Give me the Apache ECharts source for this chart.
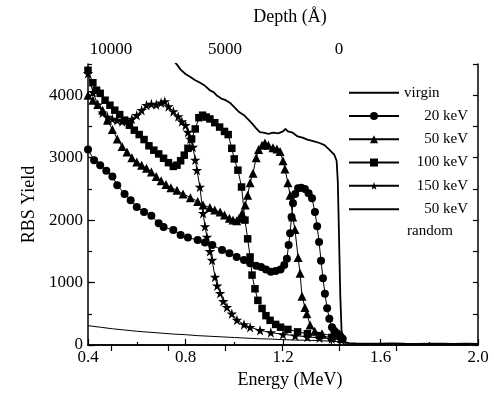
<!DOCTYPE html>
<html>
<head>
<meta charset="utf-8">
<script src="https://cdn.jsdelivr.net/npm/echarts@6/dist/echarts.min.js"></script>
<style>html,body{margin:0;padding:0;background:#fff}#c{width:494px;height:399px}</style>
</head>
<body>
<div id="c"></div>
<script>
// ---- data ----
var xTicks = [0.4, 0.8, 1.2, 1.6, 2.0];
var yTicks = [0, 1000, 2000, 3000, 4000];
var depthTicks = [10000, 7500, 5000, 2500, 0, -2500];
var depthLabels = [10000, 5000, 0];

var virginE = [0.70,0.74,0.765,0.78,0.80,0.82,0.84,0.86,0.88,0.90,0.915,0.93,0.95,0.965,0.985,1.00,1.02,1.04,1.05,1.07,1.09,1.105,1.12,1.14,1.16,1.18,1.20,1.21,1.22,1.24,1.26,1.28,1.30,1.32,1.35,1.37,1.39,1.41,1.42,1.425,1.43,1.435,1.44,1.445,1.45,1.47,1.50,1.55,1.60,1.65,1.70,1.75,1.80,1.85,1.90,1.95,2.00];
var virginY = [4750,4600,4490,4410,4340,4290,4240,4200,4150,4080,4050,3990,3940,3920,3870,3810,3730,3680,3640,3560,3470,3410,3400,3380,3400,3390,3420,3460,3420,3400,3340,3320,3290,3270,3235,3200,3130,3050,2950,2600,1700,800,250,90,50,30,25,22,20,25,20,18,22,20,18,20,18];

var kev20E = [0.40,0.425,0.45,0.475,0.50,0.52,0.55,0.575,0.60,0.63,0.66,0.69,0.71,0.75,0.78,0.81,0.85,0.88,0.91,0.95,0.98,1.01,1.04,1.065,1.09,1.11,1.13,1.15,1.17,1.19,1.205,1.216,1.223,1.229,1.235,1.241,1.25,1.262,1.275,1.29,1.305,1.319,1.331,1.34,1.348,1.356,1.364,1.372,1.381,1.39,1.401,1.41,1.422,1.435,1.445];
var kev20Y = [3130,2960,2880,2790,2700,2560,2420,2320,2210,2130,2070,1950,1890,1840,1760,1720,1680,1640,1600,1520,1470,1410,1360,1310,1270,1250,1210,1175,1185,1210,1280,1380,1600,1790,2050,2270,2420,2510,2520,2500,2430,2350,2130,1900,1650,1350,1070,820,590,420,285,230,190,140,100];

var kev50E = [0.40,0.42,0.44,0.46,0.48,0.50,0.52,0.54,0.56,0.58,0.60,0.62,0.64,0.66,0.68,0.70,0.72,0.74,0.765,0.79,0.82,0.85,0.872,0.90,0.92,0.942,0.96,0.98,0.995,1.01,1.02,1.032,1.045,1.055,1.065,1.077,1.09,1.10,1.114,1.126,1.14,1.159,1.175,1.188,1.20,1.208,1.22,1.229,1.24,1.249,1.262,1.27,1.278,1.29,1.298,1.311,1.33,1.36,1.40,1.44];
var kev50Y = [4000,3920,3850,3760,3600,3450,3300,3180,3090,3000,2930,2880,2830,2770,2700,2630,2570,2520,2480,2420,2360,2300,2240,2200,2160,2130,2080,2030,2000,1990,2030,2110,2240,2400,2600,2750,3000,3130,3200,3235,3200,3160,3140,3100,2950,2820,2600,2400,2050,1850,1400,1150,780,600,500,320,220,180,150,110];

var kev100E = [0.40,0.42,0.435,0.45,0.47,0.49,0.51,0.53,0.55,0.57,0.59,0.61,0.63,0.65,0.67,0.69,0.71,0.73,0.75,0.765,0.78,0.795,0.81,0.825,0.84,0.855,0.87,0.885,0.90,0.92,0.94,0.96,0.975,0.99,1.00,1.015,1.03,1.044,1.055,1.065,1.073,1.085,1.097,1.114,1.13,1.147,1.17,1.19,1.22,1.26,1.30,1.35,1.40,1.44];
var kev100Y = [4400,4200,4080,4030,3920,3840,3760,3690,3600,3520,3440,3370,3290,3190,3120,3060,2990,2920,2860,2880,2950,3040,3150,3300,3460,3640,3680,3650,3620,3560,3490,3420,3370,3150,2980,2800,2530,2000,1700,1410,1120,900,715,585,470,395,330,285,250,210,180,150,120,90];

var kev150E = [0.40,0.42,0.44,0.46,0.48,0.50,0.52,0.54,0.56,0.58,0.60,0.62,0.64,0.66,0.68,0.70,0.715,0.73,0.75,0.77,0.785,0.80,0.81,0.82,0.83,0.84,0.847,0.859,0.872,0.88,0.888,0.90,0.909,0.921,0.93,0.942,0.955,0.97,0.99,1.011,1.04,1.065,1.106,1.15,1.20,1.25,1.30,1.35,1.40,1.44];
var kev150Y = [4350,4050,3850,3720,3650,3620,3600,3580,3590,3620,3680,3760,3840,3860,3850,3880,3900,3820,3740,3660,3580,3520,3410,3300,3170,2965,2800,2530,2110,1900,1730,1500,1360,1090,950,830,700,605,500,400,330,285,235,200,170,150,130,115,100,80];

var randomE = [0.40,0.45,0.50,0.55,0.60,0.65,0.70,0.75,0.80,0.85,0.90,0.95,1.00,1.05,1.10,1.15,1.20,1.25,1.30,1.35,1.40,1.44,1.46,1.50,2.00];
var randomY = [310,285,260,240,220,205,190,175,165,150,140,130,120,110,100,95,85,80,75,70,60,50,20,15,15];

// ---- build ----
var E0 = 1.43;            // energy at zero depth
var kE = 57 / 2500 / 243.75; // MeV per Angstrom (axis calibration)
function depthToE(d){ return E0 - d * kE; }
function zip(a,b){ return a.map(function(v,i){ return [v,b[i]]; }); }

var FONT = 'Liberation Serif';
var star = 'path://M50,0 L61,35 L98,35 L68,57 L79,91 L50,70 L21,91 L32,57 L2,35 L39,35 Z';
var blk = '#000';

function mk(name, e, y, symbol, size, lw){
  var plain = symbol === 'none';
  return {
    name: name, type: 'line', data: zip(e, y),
    symbol: plain ? 'circle' : symbol, symbolSize: size, showSymbol: !plain,
    itemStyle: {color: blk}, lineStyle: {color: blk, width: lw},
    clip: true, z: 3
  };
}

var chart = echarts.init(document.getElementById('c'), null, {renderer: 'canvas'});
var lbl = {fontFamily: FONT, fontSize: 17, color: blk};
var hidden = {color: 'rgba(0,0,0,0)', borderWidth: 0, opacity: 0};
chart.setOption({
  animation: false,
  grid: {left: 88, right: 16, top: 64, bottom: 54, containLabel: false},
  xAxis: [{
    type: 'value', position: 'bottom', min: 0.4, max: 2.0, interval: 0.4,
    axisLine: {show: true, lineStyle: {color: blk, width: 1.5}},
    axisTick: {show: true, inside: true, length: 6, lineStyle: {color: blk, width: 1.2}},
    minorTick: {show: true, splitNumber: 2, length: 3, lineStyle: {color: blk, width: 1.2}},
    splitLine: {show: false},
    axisLabel: Object.assign({margin: 4, formatter: function(v){ return v.toFixed(1); }}, lbl),
    name: 'Energy (MeV)', nameLocation: 'middle', nameGap: 25,
    nameTextStyle: {fontFamily: FONT, fontSize: 18, color: blk, padding: [0,0,0,14]}
  }, {
    type: 'value', position: 'top', min: 0.4, max: 2.0,
    axisLine: {show: true, lineStyle: {color: blk, width: 1.5}},
    axisTick: {show: true, inside: true, length: 6, customValues: depthTicks.map(depthToE), lineStyle: {color: blk, width: 1.2}},
    splitLine: {show: false},
    axisLabel: Object.assign({margin: 6, customValues: depthLabels.map(depthToE),
      formatter: function(v){ return String(Math.round((E0 - v) / kE / 100) * 100); }}, lbl),
    name: 'Depth (\u00C5)', nameLocation: 'middle', nameGap: 38,
    nameTextStyle: {fontFamily: FONT, fontSize: 18, color: blk, padding: [0,0,0,14]}
  }],
  yAxis: [{
    type: 'value', position: 'left', min: 0, max: 4500, interval: 1000,
    axisLine: {show: true, lineStyle: {color: blk, width: 1.5}},
    axisTick: {show: true, inside: true, length: 7, customValues: yTicks, lineStyle: {color: blk, width: 1.2}},
    splitLine: {show: false},
    axisLabel: Object.assign({margin: 5, customValues: yTicks, formatter: function(v){ return String(v); }}, lbl),
    name: 'RBS Yield', nameLocation: 'middle', nameGap: 46,
    nameTextStyle: {fontFamily: FONT, fontSize: 18, color: blk}
  }, {
    type: 'value', position: 'left', min: 0, max: 4500, interval: 500,
    axisLine: {show: false}, axisLabel: {show: false}, splitLine: {show: false},
    axisTick: {show: true, inside: true, length: 4, lineStyle: {color: blk, width: 1.2}}
  }, {
    type: 'value', position: 'right', min: 0, max: 4500, interval: 500,
    axisLine: {show: true, lineStyle: {color: blk, width: 1.5}},
    axisLabel: {show: false}, splitLine: {show: false},
    axisTick: {show: true, inside: true, length: 5, lineStyle: {color: blk, width: 1.2}}
  }],
  legend: {
    orient: 'vertical', left: 348, top: 81, padding: 0, itemGap: 0,
    itemWidth: 50, itemHeight: 10, itemStyle: {color: blk},
    data: [
      {name: 'virgin', itemStyle: hidden},
      '20 keV', '50 keV', '100 keV', '150 keV',
      {name: '50 keV random', itemStyle: hidden}
    ],
    formatter: function(n){
      if (n === 'virgin') return '{l|virgin}';
      if (n === '50 keV random') return '{r|50 keV}';
      return '{r|' + n + '}';
    },
    textStyle: {
      fontFamily: FONT, fontSize: 15, color: blk, lineHeight: 23.3,
      rich: {
        l: {fontFamily: FONT, fontSize: 15, color: blk, width: 66, align: 'left', lineHeight: 23.3},
        r: {fontFamily: FONT, fontSize: 15, color: blk, width: 64, align: 'right', lineHeight: 23.3}
      }
    }
  },
  graphic: [{
    type: 'text', left: 407, top: 224,
    style: {text: 'random', font: '15px "Liberation Serif"', fill: blk}
  }],
  series: [
    mk('virgin', virginE, virginY, 'none', 0, 1.8),
    mk('20 keV', kev20E, kev20Y, 'circle', 8, 1),
    mk('50 keV', kev50E, kev50Y, 'triangle', 9, 1),
    mk('100 keV', kev100E, kev100Y, 'rect', 7.5, 1),
    mk('150 keV', kev150E, kev150Y, star, 10.5, 1),
    mk('50 keV random', randomE, randomY, 'none', 0, 1)
  ]
});
</script>
</body>
</html>
